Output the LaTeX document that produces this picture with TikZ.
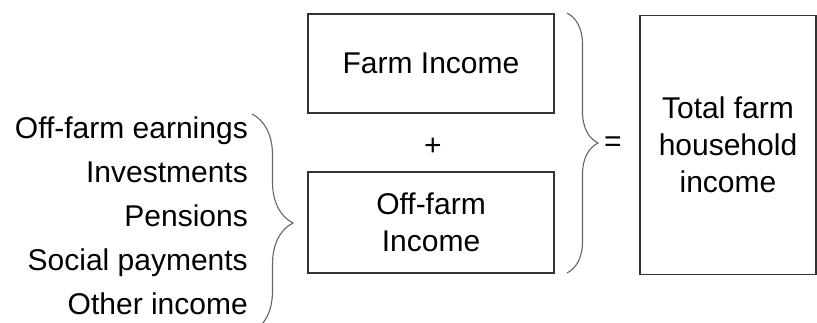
\documentclass[tikz,border=0pt]{standalone}
\usepackage{fontspec}
\setmainfont{Liberation Sans}
\usetikzlibrary{decorations.pathreplacing}

\begin{document}
\begin{tikzpicture}[x=1pt,y=1pt,
    lbl/.style={font=\fontsize{30}{37}\selectfont, inner sep=0pt},
    incbox/.style={lbl, draw=black!80, line width=1.2pt, align=center, minimum width=246pt},
    curly/.style={draw=black!60, line width=1.1pt, decorate, decoration={brace, amplitude=#1}}]
    \clip (0,0) rectangle (817,322);
    \fill[white] (0,0) rectangle (817,322);
    % Boxes:
    \node[incbox, minimum height=99pt] (farm) at (431,258.5) {Farm Income};
    \node[incbox, minimum height=101pt] (offfarm) at (431,99.5) {Off-farm\\Income};
    \node[incbox, minimum width=176pt, minimum height=259pt] (total) at (728,177) {Total farm\\household\\income};
    \node[lbl] (plus) at (433,175) {+};
    \node[lbl] (equals) at (613,178) {=};

    % Sources of off-farm income, right aligned:
    \foreach \src [count=\i] in {Off-farm earnings, Investments, Pensions, Social payments, Other income}{
        \node[lbl, anchor=base east] (src\i) at (248, 184-44*\i+44) {\src};
    }

    % Braces:
    \coordinate (lbtop) at (252,208);
    \coordinate (lbbot) at (252,-10);
    \draw[curly=41pt] (lbtop) -- (lbbot);
    \coordinate (rbtop) at (567,309);
    \coordinate (rbbot) at (567,49);
    \draw[curly=31pt] (rbtop) -- (rbbot);
\end{tikzpicture}
\end{document}
